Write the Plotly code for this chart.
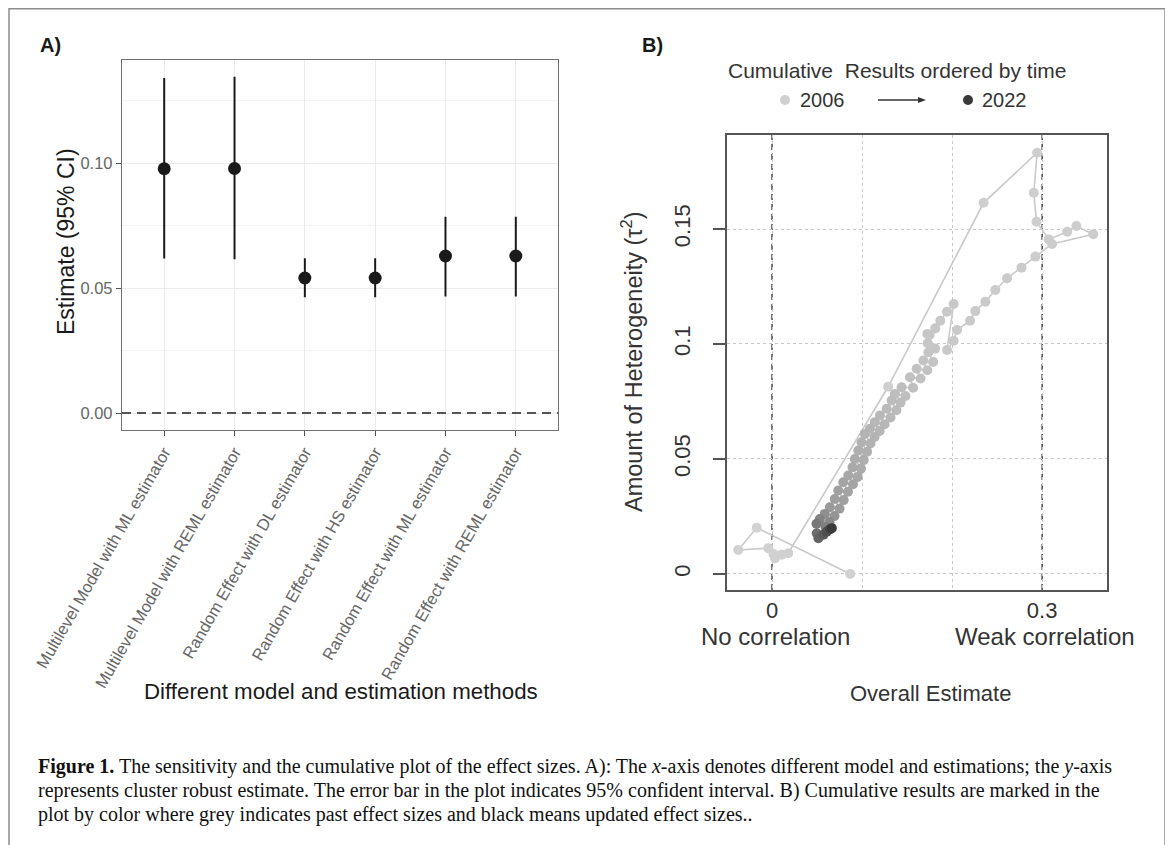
import plotly.graph_objects as go

# The page body adds an 8px margin, so the figure is sized to fit the window exactly.
OFF = 8
W, H = 1173 - OFF, 845 - OFF

# ---------------- Panel A data ----------------
methods = [
    "Multilevel Model with ML estimator",
    "Multilevel Model with REML estimator",
    "Random Effect with DL estimator",
    "Random Effect with HS estimator",
    "Random Effect with ML estimator",
    "Random Effect with REML estimator",
]
estimate = [0.0977, 0.0978, 0.0540, 0.0540, 0.0628, 0.0628]
ci_lower = [0.0618, 0.0615, 0.0463, 0.0463, 0.0466, 0.0466]
ci_upper = [0.1340, 0.1345, 0.0619, 0.0619, 0.0785, 0.0785]
a_yticks = [0.0, 0.05, 0.10]
a_yticklabels = ["0.00", "0.05", "0.10"]

# ---------------- Panel B data (cumulative, ordered by time) ----------------
overall_estimate = [
    0.0868, -0.0170, -0.0375, -0.0041, 0.0015, 0.0033, 0.0108, 0.0180,
    0.1290, 0.2350, 0.2944, 0.2907, 0.2937, 0.3074, 0.3278, 0.3380, 0.3567,
    0.3110, 0.2925, 0.2770, 0.2610, 0.2480, 0.2370, 0.2258, 0.2200, 0.2054,
    0.2017, 0.1943, 0.2017, 0.1943, 0.1869, 0.1813, 0.1750, 0.1728,
    0.1725, 0.1811, 0.1736, 0.1789, 0.1681, 0.1724, 0.1606, 0.1649, 0.1532,
    0.1566, 0.1439, 0.1482, 0.1365, 0.1427, 0.1328, 0.1381, 0.1273, 0.1316,
    0.1198, 0.1250, 0.1142, 0.1195, 0.1087, 0.1139, 0.1031, 0.1093, 0.0994,
    0.1056, 0.0958, 0.1019, 0.0920, 0.0987, 0.0894, 0.0951, 0.0847, 0.0899,
    0.0791, 0.0843, 0.0735, 0.0796, 0.0697, 0.0750, 0.0642, 0.0694, 0.0586,
    0.0639, 0.0531, 0.0593, 0.0494,
    0.0497, 0.0515, 0.0571, 0.0608, 0.0645, 0.0664,
]
heterogeneity = [
    0.0000, 0.0201, 0.0104, 0.0112, 0.0087, 0.0068, 0.0083, 0.0090,
    0.0814, 0.1614, 0.1832, 0.1658, 0.1532, 0.1455, 0.1488, 0.1513, 0.1477,
    0.1435, 0.1380, 0.1332, 0.1286, 0.1235, 0.1184, 0.1143, 0.1101, 0.1061,
    0.1014, 0.0974, 0.1174, 0.1140, 0.1101, 0.1068, 0.1039, 0.1003,
    0.1044, 0.0980, 0.0964, 0.0922, 0.0928, 0.0886, 0.0892, 0.0850, 0.0855,
    0.0810, 0.0812, 0.0774, 0.0783, 0.0745, 0.0754, 0.0712, 0.0718, 0.0680,
    0.0689, 0.0651, 0.0660, 0.0622, 0.0631, 0.0596, 0.0609, 0.0567, 0.0573,
    0.0531, 0.0537, 0.0495, 0.0500, 0.0458, 0.0464, 0.0422, 0.0428, 0.0390,
    0.0399, 0.0357, 0.0363, 0.0321, 0.0326, 0.0284, 0.0290, 0.0252, 0.0261,
    0.0226, 0.0239, 0.0205, 0.0218,
    0.0177, 0.0155, 0.0170, 0.0184, 0.0194, 0.0199,
]
order = list(range(len(overall_estimate)))
b_xticks = [0, 0.3]
b_xticklabels = ["0", "0.3"]
b_yticks = [0, 0.05, 0.1, 0.15]
b_yticklabels = ["0", "0.05", "0.1", "0.15"]

# ---------------- helpers (page pixels -> paper fractions) ----------------
def px(x):
    return (x - OFF) / W

def py(y):
    return 1 - (y - OFF) / H

SANS = "Liberation Sans, Arial, sans-serif"
SERIF = "Liberation Serif, Times New Roman, serif"

fig = go.Figure()

# Panel A
fig.add_trace(go.Scatter(
    x=list(range(len(methods))), y=estimate,
    mode="markers",
    marker=dict(color="#1a1a1a", size=13),
    error_y=dict(type="data", symmetric=False,
                 array=[u - e for u, e in zip(ci_upper, estimate)],
                 arrayminus=[e - l for e, l in zip(estimate, ci_lower)],
                 color="#1a1a1a", thickness=2, width=0),
    xaxis="x", yaxis="y", showlegend=False, hoverinfo="skip",
))

# Panel B
fig.add_trace(go.Scatter(
    x=overall_estimate, y=heterogeneity,
    mode="lines+markers",
    line=dict(color="#c9c9c9", width=1.6),
    marker=dict(size=10, color=order,
                colorscale=[[0, "#d2d2d2"], [0.39, "#c6c6c6"], [0.68, "#b2b2b2"],
                            [0.86, "#9c9c9c"], [0.93, "#7a7a7a"], [0.97, "#565656"],
                            [1, "#3a3a3a"]],
                line=dict(width=0)),
    xaxis="x2", yaxis="y2", showlegend=False, hoverinfo="skip",
))

fig.update_layout(
    width=W, height=H, autosize=False,
    margin=dict(l=0, r=0, t=0, b=0, pad=0),
    paper_bgcolor="white", plot_bgcolor="white",
    font=dict(family=SANS, color="#333333"),
    xaxis=dict(
        domain=[px(122), px(558)], range=[-0.6, 5.6], automargin=False,
        tickvals=list(range(len(methods))), ticktext=methods,
        tickangle=-60, tickfont=dict(size=16.5, color="#666666", family=SANS),
        ticks="outside", ticklen=5, tickcolor="#555555", tickwidth=1.2,
        showgrid=True, gridcolor="#ebebeb", gridwidth=1,
        showline=True, mirror=True, linecolor="#707070", linewidth=1.3,
        zeroline=False, anchor="y",
    ),
    yaxis=dict(
        domain=[py(430), py(60)], range=[-0.0068, 0.1412], automargin=False,
        tickvals=a_yticks, ticktext=a_yticklabels,
        tickfont=dict(size=16.5, color="#666666", family=SANS),
        ticks="outside", ticklen=5, tickcolor="#555555", tickwidth=1.2,
        showgrid=True, gridcolor="#ebebeb", gridwidth=1.2,
        minor=dict(dtick=0.025, tick0=0, showgrid=True, gridcolor="#f3f3f3", gridwidth=1, ticks=""),
        showline=True, mirror=True, linecolor="#707070", linewidth=1.3,
        zeroline=False, anchor="x",
    ),
    xaxis2=dict(
        domain=[px(727), px(1107)], range=[-0.05, 0.372], automargin=False,
        tickvals=b_xticks, ticktext=b_xticklabels, ticks="",
        tickfont=dict(size=22, color="#333333", family=SANS),
        showgrid=False,
        minor=dict(dtick=0.1, tick0=0, showgrid=True, gridcolor="#c8c8c8", griddash="dot",
                   gridwidth=1.2, ticks=""),
        showline=True, mirror=True, linecolor="#555555", linewidth=1.6,
        zeroline=False, anchor="y2",
    ),
    yaxis2=dict(
        domain=[py(590), py(135)], range=[-0.007, 0.1909], automargin=False,
        tickvals=b_yticks, ticktext=b_yticklabels,
        ticks="outside", ticklen=12, tickwidth=1.5, tickcolor="#555555",
        tickangle=-90, ticklabelstandoff=14,
        tickfont=dict(size=22, color="#333333", family=SANS),
        showgrid=True, gridcolor="#c8c8c8", griddash="dot", gridwidth=1.2,
        showline=True, mirror=True, linecolor="#555555", linewidth=1.6,
        zeroline=False, anchor="x2",
    ),
)

shapes = [
    # outer frame (bottom edge runs off the page)
    dict(type="rect", xref="paper", yref="paper", x0=px(9), x1=px(1165), y0=-0.05, y1=py(8.8),
         line=dict(color="#8c8c8c", width=1.5), layer="below"),
    # panel A zero reference
    dict(type="line", xref="x domain", yref="y", x0=0, x1=1, y0=0, y1=0,
         line=dict(color="#555555", width=2, dash="9px,6px")),
    # panel B reference lines
    dict(type="line", xref="x2", yref="y2 domain", x0=0, x1=0, y0=0, y1=1,
         line=dict(color="#555555", width=1.6, dash="6px,4px"), layer="below"),
    dict(type="line", xref="x2", yref="y2 domain", x0=0.3, x1=0.3, y0=0, y1=1,
         line=dict(color="#555555", width=1.6, dash="6px,4px"), layer="below"),
    # legend dots
    dict(type="circle", xref="paper", yref="paper", x0=px(780), x1=px(790), y0=py(105), y1=py(95),
         fillcolor="#cfcfcf", line=dict(width=0)),
    dict(type="circle", xref="paper", yref="paper", x0=px(963), x1=px(973), y0=py(105), y1=py(95),
         fillcolor="#3a3a3a", line=dict(width=0)),
    # legend arrow
    dict(type="line", xref="paper", yref="paper", x0=px(878), x1=px(919), y0=py(100), y1=py(100),
         line=dict(color="#333333", width=1.3)),
    dict(type="path", xref="paper", yref="paper",
         path=f"M {px(926)},{py(100)} L {px(918)},{py(97)} L {px(918)},{py(103)} Z",
         fillcolor="#333333", line=dict(width=0)),
]
fig.update_layout(shapes=shapes)

def ann(text, x, y, size, color="#333333", family=SANS, angle=0, xanchor="center", **kw):
    return dict(text=text, x=px(x), y=py(y), xref="paper", yref="paper", showarrow=False,
                font=dict(size=size, color=color, family=family), textangle=angle,
                xanchor=xanchor, yanchor="middle", **kw)

annotations = [
    ann("<b>A)</b>", 50, 45, 20, color="#1a1a1a"),
    ann("<b>B)</b>", 652, 45, 20, color="#1a1a1a"),
    ann("Estimate (95% CI)", 66, 242, 23, color="#1a1a1a", angle=-90),
    ann("Different model and estimation methods", 341, 691, 22.3, color="#1a1a1a"),
    ann("Amount of Heterogeneity (τ<sup>2</sup>)", 632, 362, 23.5, angle=-90),
    ann("Overall Estimate", 930, 693, 22),
    ann("No correlation", 775, 636, 24),
    ann("Weak correlation", 1045, 636, 24),
    ann("Cumulative  Results ordered by time", 897, 70, 21),
    ann("2006", 822, 100, 20),
    ann("2022", 1005, 100, 20),
    ann("<b>Figure 1.</b> The sensitivity and the cumulative plot of the effect sizes. A): The <i>x</i>-axis denotes different model and estimations; the <i>y</i>-axis",
        36, 766, 20, color="#111111", family=SERIF, xanchor="left"),
    ann("represents cluster robust estimate. The error bar in the plot indicates 95% confident interval. B) Cumulative results are marked in the",
        36, 790, 20, color="#111111", family=SERIF, xanchor="left"),
    ann("plot by color where grey indicates past effect sizes and black means updated effect sizes..",
        36, 814, 20, color="#111111", family=SERIF, xanchor="left"),
]
fig.update_layout(annotations=annotations)

fig.write_html("out.html")
